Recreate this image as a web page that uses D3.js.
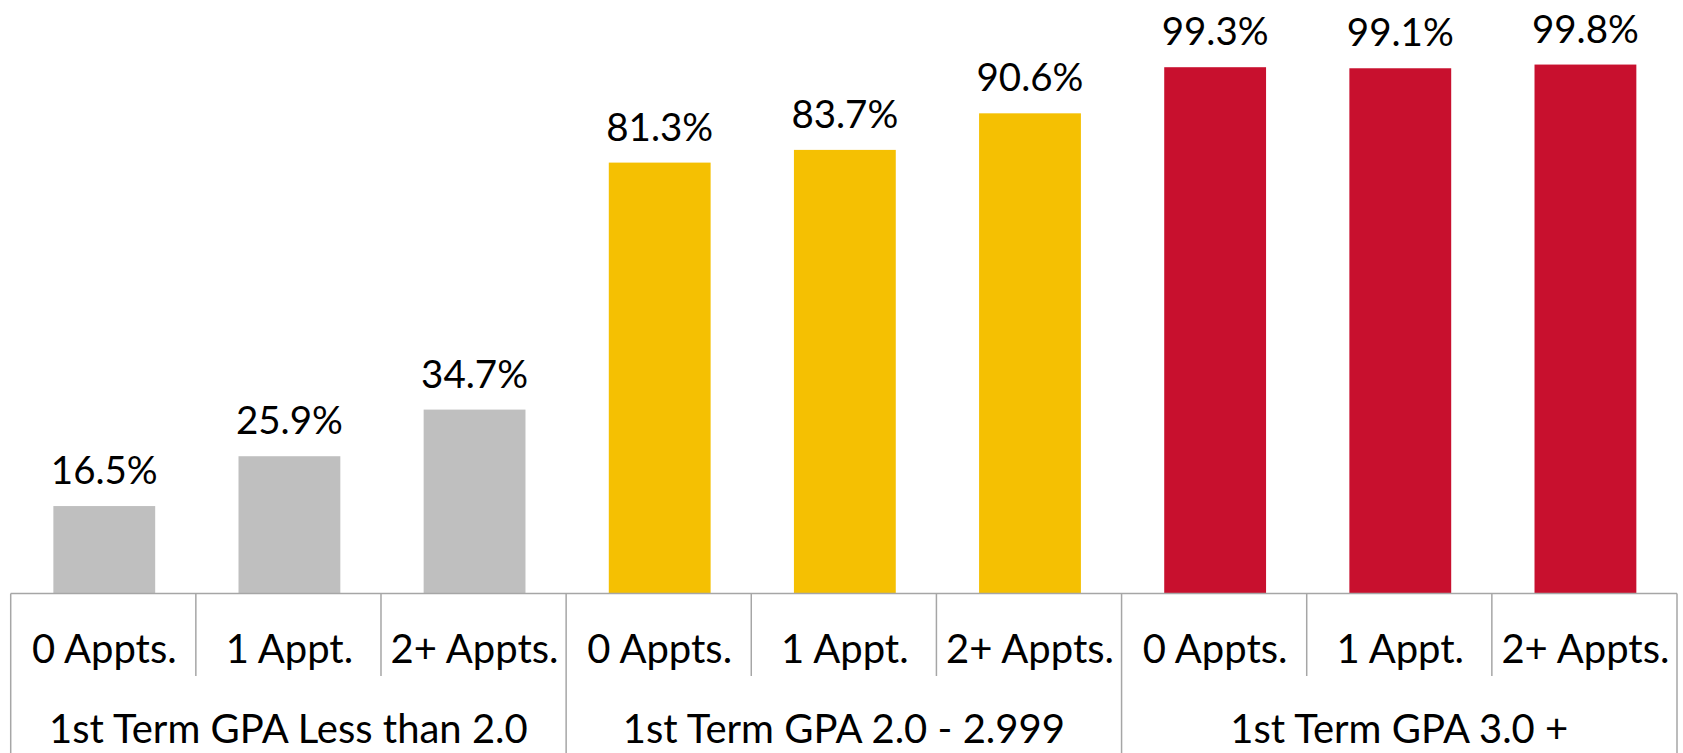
<!DOCTYPE html>
<html>
<head>
<meta charset="utf-8">
<script src="https://cdn.jsdelivr.net/npm/d3@7"></script>
<style>
  body { margin: 0; background: #fff; }
  svg text { font-family: Lato, "Open Sans", sans-serif; fill: #000; }
</style>
</head>
<body>
<div id="chart"></div>
<script>
// data
var groups = ['1st Term GPA Less than 2.0', '1st Term GPA 2.0 - 2.999', '1st Term GPA 3.0 +'];
var appts = ['0 Appts.', '1 Appt.', '2+ Appts.'];
var lowGpa = [16.5, 25.9, 34.7];
var midGpa = [81.3, 83.7, 90.6];
var highGpa = [99.3, 99.1, 99.8];
var groupColors = ['#bfbfbf', '#f5c002', '#c8102e'];

var W = 1683, H = 753;
var left = 10.7, right = 1677, axisY = 593.5, topY = 63.5;

// flatten into rows
var rows = [];
[lowGpa, midGpa, highGpa].forEach(function(vals, g){
    vals.forEach(function(v, i){
        rows.push({ key: g + '-' + i, group: g, appt: appts[i], value: v });
    });
});

var svg = d3.select('#chart').append('svg')
    .attr('width', W)
    .attr('height', H);

var x = d3.scaleBand()
    .domain(rows.map(function(d){ return d.key; }))
    .range([left, right])
    .paddingInner(0.45)
    .paddingOuter(0.225);

var xg = d3.scaleBand()
    .domain(d3.range(groups.length))
    .range([left, right]);

var y = d3.scaleLinear()
    .domain([0, 100])
    .range([axisY, topY]);

// bars
svg.selectAll('rect.bar')
    .data(rows)
    .enter()
    .append('rect')
    .attr('class', 'bar')
    .attr('x', function(d){ return x(d.key) + 1; })
    .attr('y', function(d){ return y(d.value); })
    .attr('width', x.bandwidth())
    .attr('height', function(d){ return y(0) - y(d.value); })
    .attr('fill', function(d){ return groupColors[d.group]; });

// value labels
svg.selectAll('text.val')
    .data(rows)
    .enter()
    .append('text')
    .attr('class', 'val')
    .attr('x', function(d){ return x(d.key) + 1 + x.bandwidth() / 2; })
    .attr('y', function(d){ return y(d.value) - 22; })
    .attr('text-anchor', 'middle')
    .style('font-size', '38.5px')
    .text(function(d){ return d.value.toFixed(1) + '%'; });

// axis line
var lineColor = '#a6a6a6';
svg.append('line')
    .attr('x1', left).attr('x2', right)
    .attr('y1', axisY).attr('y2', axisY)
    .attr('stroke', lineColor)
    .attr('stroke-width', 1.5);

// dividers between appointment cells
var cellEdges = d3.range(rows.length + 1).map(function(i){ return left + i * (right - left) / rows.length; });
svg.selectAll('line.cell')
    .data(cellEdges)
    .enter()
    .append('line')
    .attr('class', 'cell')
    .attr('x1', function(d){ return d; })
    .attr('x2', function(d){ return d; })
    .attr('y1', axisY)
    .attr('y2', function(d, i){ return i % 3 === 0 ? H : 676; })
    .attr('stroke', lineColor)
    .attr('stroke-width', 1.5);

// appointment labels
svg.selectAll('text.appt')
    .data(rows)
    .enter()
    .append('text')
    .attr('class', 'appt')
    .attr('x', function(d){ return x(d.key) + 1 + x.bandwidth() / 2; })
    .attr('y', 649)
    .attr('dy', '0.35em')
    .attr('text-anchor', 'middle')
    .style('font-size', '40px')
    .text(function(d){ return d.appt; });

// group labels
svg.selectAll('text.grp')
    .data(groups)
    .enter()
    .append('text')
    .attr('class', 'grp')
    .attr('x', function(d, i){ return xg(i) + xg.bandwidth() / 2; })
    .attr('y', 729)
    .attr('dy', '0.35em')
    .attr('text-anchor', 'middle')
    .style('font-size', '40px')
    .text(function(d){ return d; });
</script>
</body>
</html>
